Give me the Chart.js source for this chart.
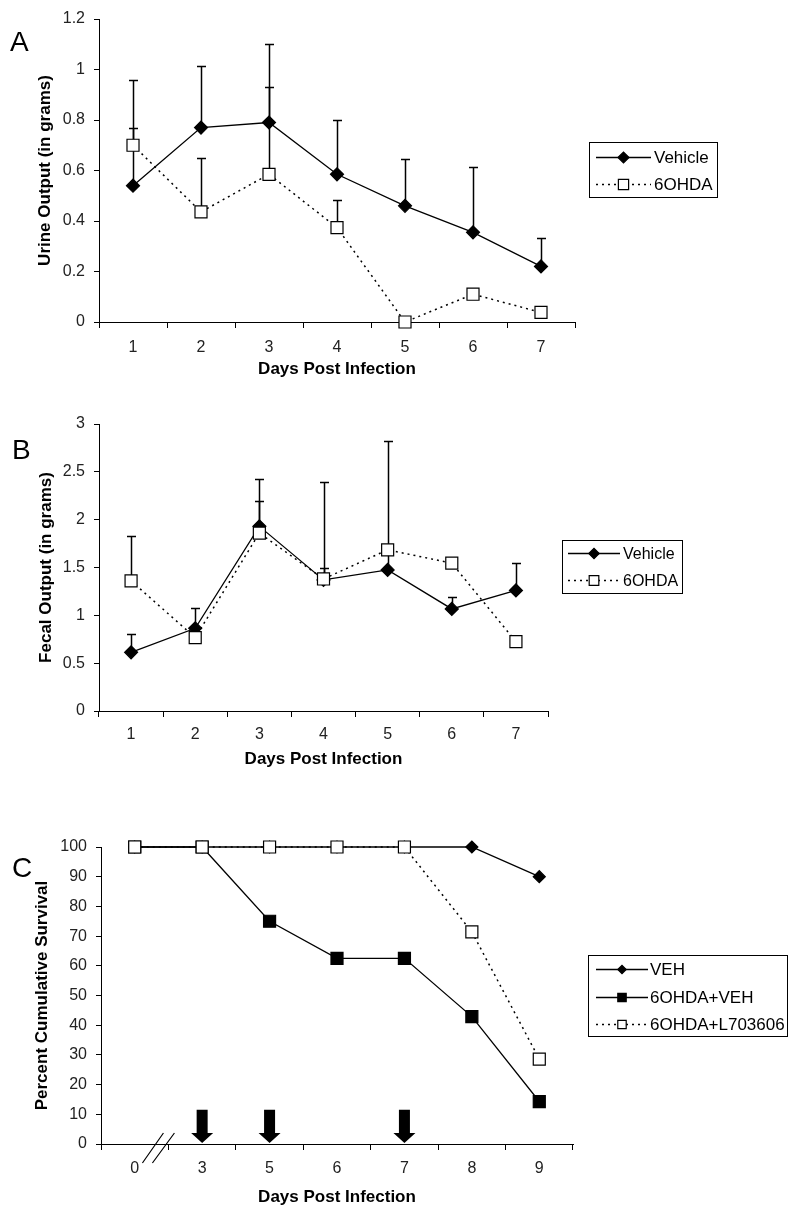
<!DOCTYPE html>
<html>
<head>
<meta charset="utf-8">
<script src="https://cdn.jsdelivr.net/npm/chart.js@4/dist/chart.umd.min.js"></script>
<style>
  body { margin: 0; background: #fff; }
  #page { position: relative; width: 800px; height: 1223px; overflow: hidden; }
  canvas { position: absolute; left: 0; }
  .panel-letter { position: absolute; font: 28px/28px 'Liberation Sans', Arial, sans-serif; color: #000; }
</style>
</head>
<body>
<div id="page">
  <canvas id="chartA" width="800" height="395" style="top:0"></canvas>
  <canvas id="chartB" width="800" height="380" style="top:395px"></canvas>
  <canvas id="chartC" width="800" height="448" style="top:775px"></canvas>
  <div class="panel-letter" style="left:10px;top:28px">A</div>
  <div class="panel-letter" style="left:12px;top:436px">B</div>
  <div class="panel-letter" style="left:12px;top:854px">C</div>
</div>
<script>
// Panel A / B: days 1-7
const daysAB = ['1', '2', '3', '4', '5', '6', '7'];

const urineVehicle = [0.54, 0.77, 0.79, 0.585, 0.46, 0.355, 0.22];
const urineVehicleErr = [0.42, 0.245, 0.31, 0.215, 0.185, 0.258, 0.114];
const urine6OHDA = [0.70, 0.436, 0.585, 0.374, 0.0, 0.11, 0.038];
const urine6OHDAErr = [0.07, 0.214, 0.345, 0.109, null, null, null];

const fecalVehicle = [0.613, 0.865, 1.93, 1.37, 1.475, 1.067, 1.26];
const fecalVehicleErr = [0.187, 0.21, 0.49, 0.12, 0.19, 0.128, 0.285];
const fecal6OHDA = [1.36, 0.767, 1.86, 1.38, 1.685, 1.545, 0.725];
const fecal6OHDAErr = [0.47, null, 0.34, 1.01, 1.135, null, null];

// Panel C: survival
const daysC = ['0', '3', '5', '6', '7', '8', '9'];
const survVEH = [100, 100, 100, 100, 100, 100, 90];
const surv6OHDAVEH = [100, 100, 75, 62.5, 62.5, 42.9, 14.3];
const surv6OHDAL703606 = [100, 100, 100, 100, 100, 71.4, 28.6];
const doseDays = ['3', '5', '7'];

const FONT = "'Liberation Sans', Arial, sans-serif";
Chart.defaults.font.family = FONT;
Chart.defaults.color = '#000';

// upper-only error bars, drawn under the markers
const errorBarPlugin = {
    id: 'errorBars',
    beforeDatasetsDraw(chart, args, opts) {
        if (!opts.errors) return;
        const { ctx, scales: { x, y } } = chart;
        ctx.save();
        ctx.strokeStyle = '#000';
        ctx.lineWidth = 1.5;
        chart.data.datasets.forEach((ds, i) => {
            const errs = opts.errors[i];
            if (!errs) return;
            ds.data.forEach((v, j) => {
                const e = errs[j];
                if (e == null || v == null) return;
                const px = Math.round(x.getPixelForValue(j)) + 0.5;
                const y0 = y.getPixelForValue(v);
                const y1 = Math.round(y.getPixelForValue(v + e)) + 0.5;
                ctx.beginPath();
                ctx.moveTo(px, y0);
                ctx.lineTo(px, y1);
                ctx.moveTo(px - 4.5, y1);
                ctx.lineTo(px + 4.5, y1);
                ctx.stroke();
            });
        });
        ctx.restore();
    }
};

// boxed legend with line + marker samples
const boxLegendPlugin = {
    id: 'boxLegend',
    afterDraw(chart, args, opts) {
        if (!opts.box) return;
        const { ctx } = chart;
        const [x1, y1, x2, y2] = opts.box;
        ctx.save();
        ctx.strokeStyle = '#000';
        ctx.lineWidth = 1;
        ctx.strokeRect(x1 + 0.5, y1 + 0.5, x2 - x1, y2 - y1);
        ctx.font = opts.font;
        ctx.textBaseline = 'middle';
        chart.data.datasets.forEach((ds, i) => {
            const yy = opts.rows[i] + 0.5;
            ctx.strokeStyle = '#000';
            ctx.lineWidth = ds.borderWidth;
            ctx.setLineDash(ds.borderDash || []);
            ctx.beginPath();
            ctx.moveTo(opts.lineFrom, yy);
            ctx.lineTo(opts.lineTo, yy);
            ctx.stroke();
            ctx.setLineDash([]);
            ctx.fillStyle = ds.pointBackgroundColor;
            ctx.lineWidth = 1.2;
            Chart.helpers.drawPoint(ctx, {
                pointStyle: ds.pointStyle,
                radius: ds.pointRadius * opts.markerScale,
                rotation: 0,
                borderWidth: 1.2
            }, (opts.lineFrom + opts.lineTo) / 2, yy);
            ctx.fillStyle = '#000';
            ctx.fillText(ds.label, opts.textX, yy + 1);
        });
        ctx.restore();
    }
};

// dosing arrows and the axis break in panel C
const survivalExtrasPlugin = {
    id: 'survivalExtras',
    afterDatasetsDraw(chart, args, opts) {
        if (!opts.arrowDays) return;
        const { ctx, scales: { x, y } } = chart;
        const labels = x.getLabels();
        const base = y.getPixelForValue(0);
        const top = y.getPixelForValue(opts.arrowTop);
        const neck = y.getPixelForValue(opts.arrowNeck);
        ctx.save();
        ctx.fillStyle = '#000';
        opts.arrowDays.forEach(d => {
            const px = x.getPixelForValue(labels.indexOf(d));
            ctx.beginPath();
            ctx.moveTo(px - 5.5, top);
            ctx.lineTo(px + 5.5, top);
            ctx.lineTo(px + 5.5, neck);
            ctx.lineTo(px + 11, neck);
            ctx.lineTo(px, base - 1);
            ctx.lineTo(px - 11, neck);
            ctx.lineTo(px - 5.5, neck);
            ctx.closePath();
            ctx.fill();
        });
        // axis break "//"
        const b = (x.getPixelForValue(0) + x.getPixelForValue(1)) / 2;
        const ya = x.top;
        ctx.strokeStyle = '#000';
        ctx.lineWidth = 1.2;
        ctx.beginPath();
        ctx.moveTo(b - 26, ya + 19);
        ctx.lineTo(b - 5, ya - 11);
        ctx.moveTo(b - 16, ya + 19);
        ctx.lineTo(b + 6, ya - 11);
        ctx.stroke();
        ctx.restore();
    }
};

Chart.register(errorBarPlugin, boxLegendPlugin, survivalExtrasPlugin);

function solidSeries(label, data, style, radius, fill) {
    return {
        label, data,
        borderColor: '#000', borderWidth: 1.3, tension: 0, clip: false,
        pointStyle: style, pointRadius: radius, pointHoverRadius: radius,
        pointBackgroundColor: fill, pointBorderColor: '#000', pointBorderWidth: 1.2
    };
}

function dottedSeries(label, data) {
    return {
        label, data,
        borderColor: '#000', borderWidth: 1.5, borderDash: [2, 4], tension: 0, clip: false,
        pointStyle: 'rect', pointRadius: 8.5, pointHoverRadius: 8.5,
        pointBackgroundColor: '#fff', pointBorderColor: '#000', pointBorderWidth: 1.2
    };
}

function buildScales(p) {
    return {
        x: {
            type: 'category',
            offset: true,
            grid: { offset: true, drawOnChartArea: false, tickLength: 6, color: '#000', lineWidth: 1 },
            border: { color: '#000', width: 1 },
            ticks: { color: '#222', font: { size: 16 }, padding: p.xTickPad, maxRotation: 0, autoSkip: false },
            title: {
                display: true, text: 'Days Post Infection', color: '#000',
                font: { size: 17, weight: 'bold' }, padding: { top: 0, bottom: p.xTitlePad }
            },
            afterFit: s => { s.height = p.xHeight; }
        },
        y: {
            min: p.min, max: p.max,
            grid: { drawOnChartArea: false, tickLength: 5, color: '#000', lineWidth: 1 },
            border: { color: '#000', width: 1 },
            ticks: {
                stepSize: p.step, color: '#222', font: { size: 16 }, padding: 9,
                callback: v => String(Math.round(v * 100) / 100)
            },
            title: {
                display: true, text: p.yTitle, color: '#000',
                font: { size: 17, weight: 'bold' }, padding: { top: p.yTitlePad, bottom: 0 }
            },
            afterFit: s => { s.width = p.yWidth; }
        }
    };
}

function makeChart(id, labels, datasets, p, plugins) {
    return new Chart(document.getElementById(id), {
        type: 'line',
        data: { labels, datasets },
        options: {
            responsive: false,
            animation: false,
            devicePixelRatio: 1,
            layout: { padding: { top: p.top, right: p.right, left: 0, bottom: 0 } },
            plugins: Object.assign({ legend: { display: false }, tooltip: { enabled: false } }, plugins),
            scales: buildScales(p)
        }
    });
}

// A — urine output
const vehA = solidSeries('Vehicle', urineVehicle, 'rectRot', 6.5, '#000');
vehA.order = 2;
const ohdaA = dottedSeries('6OHDA', urine6OHDA);
ohdaA.order = 1;
makeChart('chartA', daysAB, [vehA, ohdaA], {
    top: 19, right: 225, xHeight: 73, yWidth: 99, xTickPad: 10, xTitlePad: 15,
    min: 0, max: 1.2, step: 0.2, yTitle: 'Urine Output (in grams)', yTitlePad: 35
}, {
    errorBars: { errors: [urineVehicleErr, urine6OHDAErr] },
    boxLegend: {
        box: [589, 142, 717, 197], rows: [157, 184], lineFrom: 596, lineTo: 651, textX: 654,
        font: '17px ' + FONT, markerScale: 0.85
    }
});

// B — fecal output
const vehB = solidSeries('Vehicle', fecalVehicle, 'rectRot', 6.5, '#000');
vehB.order = 2;
const ohdaB = dottedSeries('6OHDA', fecal6OHDA);
ohdaB.order = 1;
makeChart('chartB', daysAB, [vehB, ohdaB], {
    top: 29, right: 252, xHeight: 64, yWidth: 99, xTickPad: 8, xTitlePad: 5,
    min: 0, max: 3, step: 0.5, yTitle: 'Fecal Output (in grams)', yTitlePad: 36
}, {
    errorBars: { errors: [fecalVehicleErr, fecal6OHDAErr] },
    boxLegend: {
        box: [562, 145, 682, 198], rows: [158, 185], lineFrom: 568, lineTo: 620, textX: 623,
        font: '16px ' + FONT, markerScale: 0.8
    }
});

// C — survival
const vehC = solidSeries('VEH', survVEH, 'rectRot', 6, '#000');
vehC.order = 3;
const ohdaVehC = solidSeries('6OHDA+VEH', surv6OHDAVEH, 'rect', 8.5, '#000');
ohdaVehC.order = 2;
const ohdaLC = dottedSeries('6OHDA+L703606', surv6OHDAL703606);
ohdaLC.order = 1;
makeChart('chartC', daysC, [vehC, ohdaVehC, ohdaLC], {
    top: 72, right: 227, xHeight: 79, yWidth: 101, xTickPad: 9, xTitlePad: 15,
    min: 0, max: 100, step: 10, yTitle: 'Percent Cumulative Survival', yTitlePad: 32
}, {
    survivalExtras: { arrowDays: doseDays, arrowTop: 11.5, arrowNeck: 3.7 },
    boxLegend: {
        box: [588, 180, 787, 261], rows: [194, 222, 249], lineFrom: 596, lineTo: 648, textX: 650,
        font: '17px ' + FONT, markerScale: 0.7
    }
});
</script>
</body>
</html>
